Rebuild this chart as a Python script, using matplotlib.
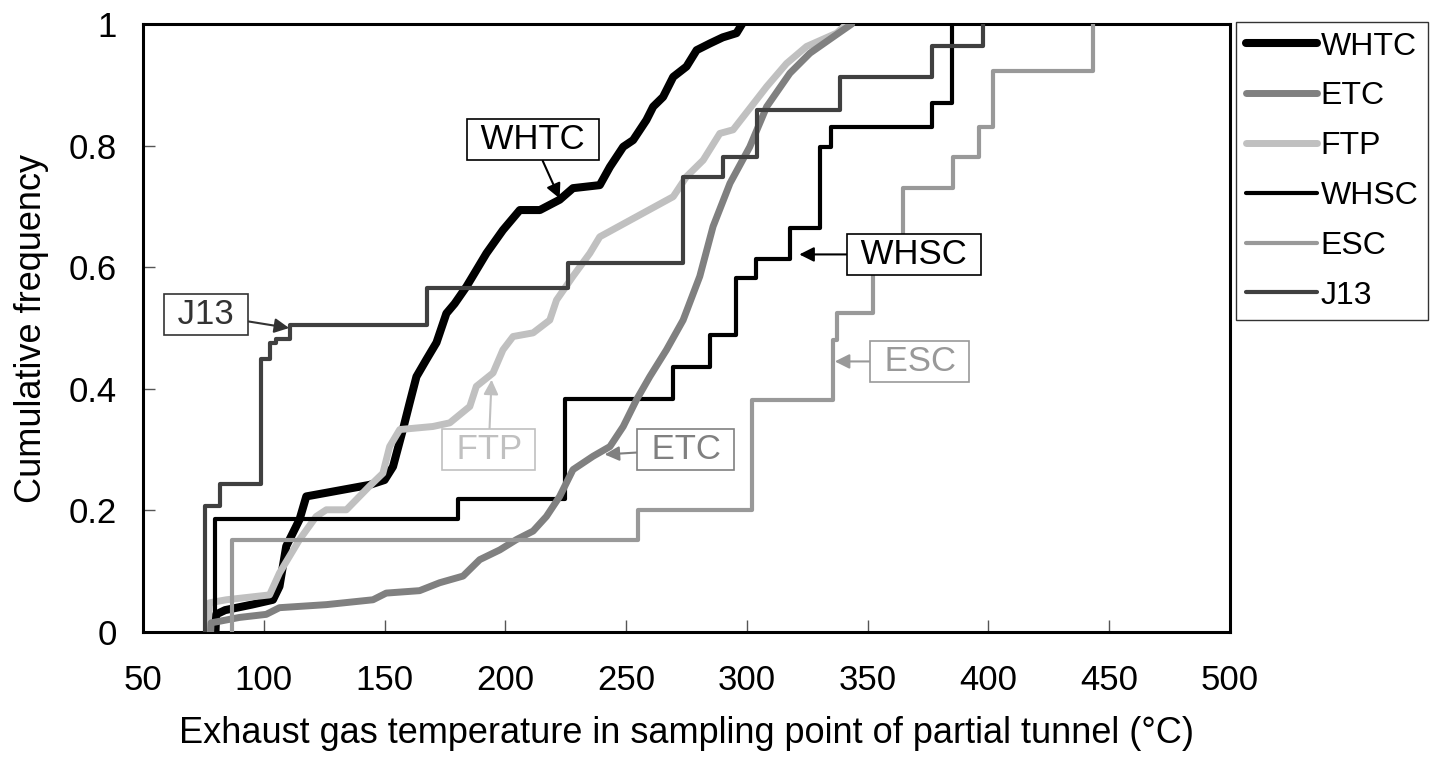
import matplotlib
matplotlib.use("Agg")
import matplotlib.pyplot as plt
import numpy as np

plt.rcParams["font.family"] = ["Liberation Sans", "DejaVu Sans"]

# --- data (temperature in degC, cumulative frequency) ---
whtc_t = [80, 80.3, 84, 95, 103.8, 106.5, 109.3, 114.8, 117.6, 125.9, 143.8, 150, 153.5,
          157.6, 160.4, 163.2, 167.3, 171.5, 175.6, 179, 183.9, 192.2, 199, 206, 214.3,
          222.5, 228, 239.1, 243.3, 248.8, 252.9, 258.4, 261.2, 265.3, 269.5, 275, 279.2,
          284.7, 290, 295.7, 298]
whtc_f = [0, 0.029, 0.036, 0.045, 0.053, 0.075, 0.141, 0.185, 0.223, 0.229, 0.242, 0.25, 0.272,
          0.333, 0.377, 0.42, 0.448, 0.476, 0.524, 0.54, 0.568, 0.623, 0.661, 0.694, 0.694,
          0.711, 0.730, 0.735, 0.765, 0.798, 0.809, 0.842, 0.864, 0.880, 0.913, 0.930, 0.957,
          0.968, 0.978, 0.985, 1.0]

etc_t = [78, 78.2, 90, 101, 106.5, 125.9, 145.2, 150.7, 164.5, 172.8, 182.5, 189.4, 197.7,
         204.6, 211.5, 217, 222.5, 228, 236.3, 243.3, 248.8, 254.3, 259.8, 266.7, 273.6,
         280.5, 286, 293, 301.2, 308.2, 317.8, 326.1, 335.8, 343.4]
etc_f = [0, 0.015, 0.024, 0.029, 0.04, 0.045, 0.053, 0.064, 0.068, 0.081, 0.092, 0.119, 0.135,
         0.152, 0.166, 0.19, 0.223, 0.267, 0.289, 0.305, 0.338, 0.382, 0.42, 0.464, 0.513,
         0.585, 0.667, 0.738, 0.798, 0.864, 0.919, 0.952, 0.979, 1.0]

ftp_t = [76.8, 77.5, 84.5, 102.4, 106.5, 114.8, 121.7, 125.9, 134.2, 143.8, 149.3, 152.1,
         156.3, 170, 177, 185.3, 188, 194.9, 199, 203.2, 211.5, 218.4, 221.2, 228, 235,
         239.1, 254.3, 269.5, 275, 281.9, 288.8, 294.3, 308.2, 316.4, 324.7, 337.2, 341.3]
ftp_f = [0, 0.048, 0.053, 0.061, 0.097, 0.152, 0.19, 0.201, 0.201, 0.24, 0.261, 0.305,
         0.333, 0.338, 0.344, 0.371, 0.404, 0.426, 0.464, 0.486, 0.492, 0.513, 0.546, 0.585, 0.623,
         0.650, 0.683, 0.716, 0.749, 0.776, 0.82, 0.826, 0.897, 0.935, 0.963, 0.985, 1.0]

# step series: temperature of each step and frequency after it
whsc_t = [80, 180.4, 224.9, 269.4, 284.7, 295.4, 303.7, 318, 330.2, 335, 376.5, 384.8]
whsc_f = [0.186, 0.218, 0.383, 0.436, 0.489, 0.582, 0.614, 0.665, 0.797, 0.83, 0.870, 1.0]

esc_t = [87, 254.9, 302, 335.6, 337.3, 352.2, 364.6, 385.3, 396.2, 401.8, 443.4]
esc_f = [0.152, 0.201, 0.381, 0.481, 0.524, 0.62, 0.730, 0.782, 0.831, 0.922, 1.0]

j13_t = [75.5, 81.7, 99, 102.4, 105.2, 110.7, 167.5, 226, 273.5, 290, 304, 338.5, 376.5, 397.6]
j13_f = [0.207, 0.244, 0.449, 0.476, 0.482, 0.505, 0.566, 0.607, 0.749, 0.782, 0.859, 0.913,
         0.963, 1.0]

fig = plt.figure(figsize=(14.33, 7.63), dpi=100)
ax = fig.add_axes([143 / 1433, 131 / 763, 1087 / 1433, 608 / 763])

ax.plot(whtc_t, whtc_f, color="black", lw=5.8, solid_capstyle="round", label="WHTC", zorder=3)
ax.plot(etc_t, etc_f, color="#808080", lw=5.0, solid_capstyle="round", label="ETC", zorder=4)
ax.plot(ftp_t, ftp_f, color="#c0c0c0", lw=5.0, solid_capstyle="round", label="FTP", zorder=3)


def step(t, f, **kw):
    ax.step(np.r_[t[0], t], np.r_[0, f], where="post", solid_capstyle="round",
            solid_joinstyle="round", **kw)


step(whsc_t, whsc_f, color="black", lw=3.0, label="WHSC", zorder=3)
step(esc_t, esc_f, color="#999999", lw=3.0, label="ESC", zorder=4)
step(j13_t, j13_f, color="#404040", lw=3.0, label="J13", zorder=5)

ax.set_xlim(50, 500)
ax.set_ylim(0, 1)
ax.set_xticks(np.arange(50, 501, 50))
ax.set_yticks([0, 0.2, 0.4, 0.6, 0.8, 1])
ax.set_yticklabels(["0", "0.2", "0.4", "0.6", "0.8", "1"])
ax.tick_params(direction="in", length=8.5, width=1, color="#555555", labelsize=25)
ax.tick_params(axis="x", pad=23)
ax.tick_params(axis="y", pad=19)
for s in ax.spines.values():
    s.set_linewidth(2.2)
ax.set_xlabel("Exhaust gas temperature in sampling point of partial tunnel (°C)",
              fontsize=26, labelpad=14)
ax.set_ylabel("Cumulative frequency", fontsize=26, labelpad=14)

# callout labels
notes = [
    ("WHTC", (211.5, 0.81), (222.5, 0.713), "black"),
    ("J13", (76.1, 0.522), (110.5, 0.5), "#333333"),
    ("FTP", (193.1, 0.30), (194.3, 0.415), "#c0c0c0"),
    ("ETC", (274.7, 0.30), (241.1, 0.292), "#808080"),
    ("WHSC", (369.2, 0.621), (321.7, 0.621), "black"),
    ("ESC", (371.6, 0.445), (336.4, 0.445), "#999999"),
]
for txt, xyt, xy, c in notes:
    ax.annotate(" " + txt + " ", xy=xy, xytext=xyt, fontsize=25, color=c,
                ha="center", va="center",
                bbox=dict(boxstyle="square,pad=0.12", fc="white", ec=c, lw=1.2),
                arrowprops=dict(arrowstyle="-|>", color=c, lw=1.5, mutation_scale=22,
                                shrinkA=0, shrinkB=0),
                zorder=6)

leg = fig.legend(loc="upper left", bbox_to_anchor=(1236 / 1433, 1 - 22 / 763),
                 fontsize=23, frameon=True, fancybox=False, edgecolor="black",
                 handlelength=2.25, handletextpad=0.1, labelspacing=0.62, borderpad=0.3,
                 borderaxespad=0)
leg.get_frame().set_linewidth(1)

fig.savefig("out.png", dpi=100)
